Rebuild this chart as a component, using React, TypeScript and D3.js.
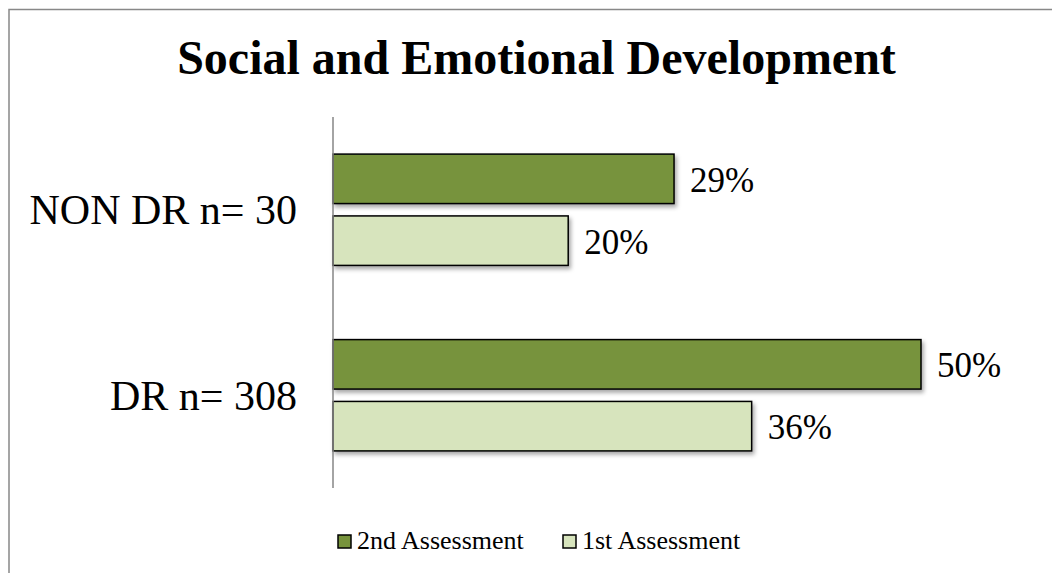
import React from 'react';
import * as d3 from 'd3';

// Chart data
const categories = ['NON DR n= 30', 'DR n= 308'];
const seriesNames = ['2nd Assessment', '1st Assessment'];
const secondAssessment = [0.29, 0.50];
const firstAssessment = [0.20, 0.356];
const seriesColors = ['#77933C', '#D7E4BD'];

const WIDTH = 1052;
const HEIGHT = 573;
const FONT = '"Liberation Serif", "Times New Roman", Times, serif';

const App = () => {
  const axisX = 333;
  const plotTop = 117;
  const plotBottom = 488;

  // Scales
  const xScale = d3.scaleLinear().domain([0, 0.5]).range([axisX, 921]);
  const yScale = d3.scaleBand<string>()
    .domain(categories)
    .range([plotTop, plotBottom])
    .padding(0);
  const innerScale = d3.scaleBand<string>()
    .domain(seriesNames)
    .range([0, yScale.bandwidth()])
    .paddingInner(0.2)
    .paddingOuter(0.6);

  const values = [secondAssessment, firstAssessment];
  const fmt = d3.format('.0%');

  const bars = categories.flatMap((cat, ci) =>
    seriesNames.map((s, si) => ({
      cat,
      series: s,
      value: values[si][ci],
      color: seriesColors[si],
    }))
  );

  const legendItems = [
    { name: seriesNames[0], color: seriesColors[0], x: 338 },
    { name: seriesNames[1], color: seriesColors[1], x: 563 },
  ];

  return (
    <svg
      width={WIDTH}
      height={HEIGHT}
      style={{ position: 'absolute', left: 0, top: 0, background: '#fff' }}
      fontFamily={FONT}
    >
      <defs>
        <filter id="barShadow" x="-5%" y="-20%" width="115%" height="160%">
          <feDropShadow dx="2" dy="3" stdDeviation="2" floodColor="#000" floodOpacity="0.35" />
        </filter>
      </defs>

      {/* chart frame */}
      <rect x={9} y={9.5} width={1100} height={620} fill="#fff" stroke="#888" strokeWidth={1.5} />

      {/* title */}
      <text
        x={536.5}
        y={74}
        textAnchor="middle"
        fontSize={48}
        fontWeight="bold"
        fill="#000"
      >
        Social and Emotional Development
      </text>

      {/* bars */}
      {bars.map((d, i) => {
        const y = (yScale(d.cat) ?? 0) + (innerScale(d.series) ?? 0);
        const h = innerScale.bandwidth();
        return (
          <g key={i}>
            <rect
              x={xScale(0)}
              y={y}
              width={xScale(d.value) - xScale(0)}
              height={h}
              fill={d.color}
              stroke="#000"
              strokeWidth={1.5}
              filter="url(#barShadow)"
            />
            <text
              x={xScale(d.value) + 16}
              y={y + h / 2 + 13}
              fontSize={35}
              fill="#000"
            >
              {fmt(d.value)}
            </text>
          </g>
        );
      })}

      {/* vertical category axis */}
      <line x1={axisX} x2={axisX} y1={plotTop} y2={plotBottom} stroke="#868686" strokeWidth={1.5} />

      {/* category labels */}
      {categories.map((c) => (
        <text
          key={c}
          x={axisX - 36}
          y={(yScale(c) ?? 0) + yScale.bandwidth() / 2 + 14.5}
          textAnchor="end"
          fontSize={42}
          fill="#000"
        >
          {c}
        </text>
      ))}

      {/* legend */}
      {legendItems.map((d) => (
        <g key={d.name} transform={`translate(${d.x}, 535)`}>
          <rect x={0} y={0} width={13} height={13} fill={d.color} stroke="#000" strokeWidth={1.5} />
          <text x={19} y={14} fontSize={26} fill="#000">
            {d.name}
          </text>
        </g>
      ))}
    </svg>
  );
};

export default App;
